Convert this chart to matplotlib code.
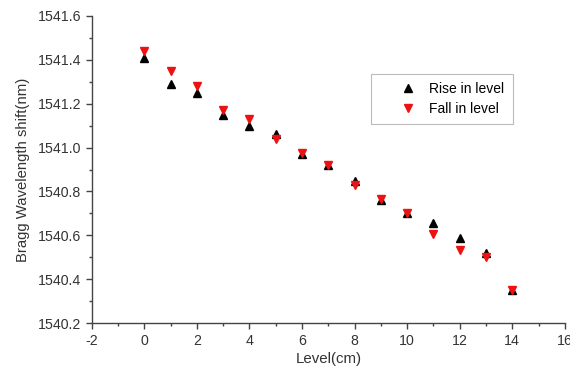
import matplotlib
matplotlib.use("Agg")
import matplotlib.pyplot as plt
from matplotlib.ticker import MultipleLocator, FormatStrFormatter

plt.rcParams['font.family'] = ['Liberation Sans', 'DejaVu Sans']
plt.rcParams['axes.unicode_minus'] = False

level = [0, 1, 2, 3, 4, 5, 6, 7, 8, 9, 10, 11, 12, 13, 14]
rise = [1541.41, 1541.29, 1541.25, 1541.15, 1541.10, 1541.06, 1540.97, 1540.92,
        1540.85, 1540.76, 1540.70, 1540.655, 1540.59, 1540.52, 1540.35]
fall = [1541.44, 1541.35, 1541.28, 1541.17, 1541.13, 1541.04, 1540.975, 1540.92,
        1540.83, 1540.765, 1540.70, 1540.605, 1540.535, 1540.50, 1540.35]

fig = plt.figure(figsize=(5.7, 3.71), dpi=100)
ax = fig.add_axes([0.161, 0.129, 0.83, 0.828])

ax.plot(level, rise, linestyle='none', marker='^', color='black', markersize=5.5, label='Rise in level')
ax.plot(level, fall, linestyle='none', marker='v', color='#ee1111', markersize=5.5, label='Fall in level')

ax.set_xlim(-2, 16)
ax.set_ylim(1540.2, 1541.6)
ax.xaxis.set_major_locator(MultipleLocator(2))
ax.xaxis.set_minor_locator(MultipleLocator(1))
ax.yaxis.set_major_locator(MultipleLocator(0.2))
ax.yaxis.set_minor_locator(MultipleLocator(0.1))
ax.yaxis.set_major_formatter(FormatStrFormatter('%.1f'))

for s in ['top', 'right']:
    ax.spines[s].set_visible(False)
for s in ['left', 'bottom']:
    ax.spines[s].set_color('#444444')
    ax.spines[s].set_linewidth(1.0)
ax.tick_params(which='major', direction='out', length=4, width=1, color='#444444', labelsize=10.2, labelcolor='#333333')
ax.tick_params(which='minor', direction='out', length=2.5, width=1, color='#444444')

ax.set_xlabel('Level(cm)', fontsize=10.8, color='#333333', labelpad=3)
ax.set_ylabel('Bragg Wavelength shift(nm)', fontsize=10.7, color='#333333', labelpad=6)

leg = ax.legend(loc='upper left', bbox_to_anchor=(0.59, 0.811), fontsize=10, frameon=True,
                fancybox=False, edgecolor='#aaaaaa', handletextpad=-0.6, borderpad=0.6,
                labelspacing=0.4, handlelength=4.2, borderaxespad=0)
leg.get_frame().set_linewidth(0.8)

fig.savefig('out.png', dpi=100)
